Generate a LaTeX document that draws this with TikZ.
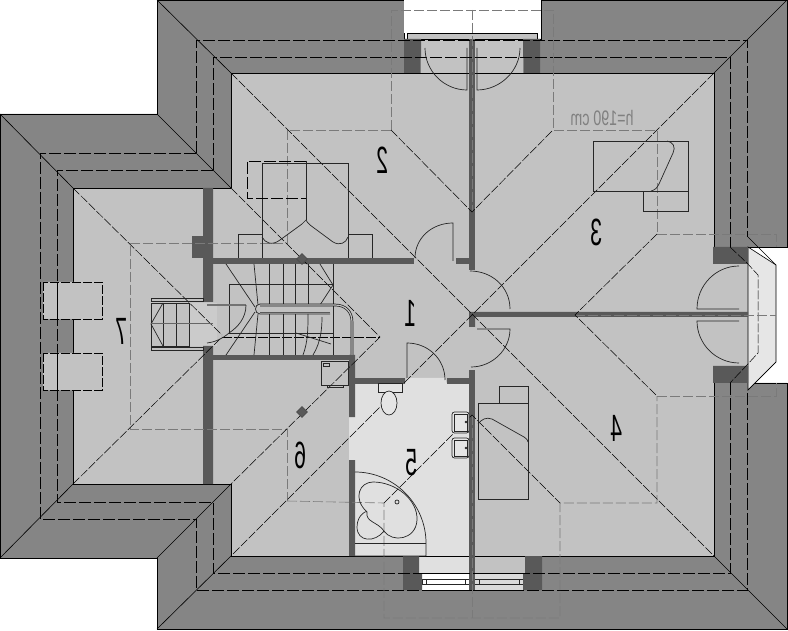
\documentclass[tikz,border=0pt]{standalone}
\usepackage{fontspec}
\setmainfont{Liberation Sans}
\usetikzlibrary{shapes.geometric}
\definecolor{rooftone}{HTML}{858585}
\definecolor{ceiltone}{HTML}{C2C2C2}
\definecolor{walltone}{HTML}{595959}
\definecolor{bathtone}{HTML}{E0E0E0}
\definecolor{faintline}{HTML}{7A7A7A}
\begin{document}
\begin{tikzpicture}[x=1pt,y=-1pt]
\tikzstyle{every path}=[line width=.6pt,line join=miter]
\tikzstyle{roof}=[fill=rooftone,draw=black]
\tikzstyle{ceil}=[fill=ceiltone]
\tikzstyle{wall}=[fill=walltone]
\tikzstyle{furn}=[draw=black!85,line width=.7pt]
\tikzstyle{hip}=[draw=black,line width=.5pt,dash pattern=on 9pt off 2pt]
\tikzstyle{eave}=[draw=black,line width=.8pt,dash pattern=on 12pt off 3pt]
\tikzstyle{low}=[draw=faintline,line width=.6pt,dash pattern=on 10pt off 3pt]
\tikzstyle{roomno}=[font=\fontsize{38}{38}\selectfont,xscale=-.56,inner sep=0pt]
\tikzstyle{marker}=[diamond,fill=walltone,draw=black!70,minimum size=11pt,inner sep=0pt]
\useasboundingbox (0,0) rectangle (788,631);
% roof and ceilings
\path[roof] (157,0) -- (404,0) -- (404,39) -- (541,39) -- (541,0) -- (787,0) -- (787,247)
 -- (748,247) -- (748,383) -- (787,383) -- (787,629) -- (157,629) -- (157,558) -- (0,558)
 -- (0,114) -- (157,114) -- cycle;
\fill[ceil] (231,73) rectangle (714,556);
\fill[ceil] (73,188) rectangle (231,484);
\fill[ceil] (714,264) rectangle (748,366);
\fill[ceil] (421,39) rectangle (523,73);
\fill[ceil] (469,556) rectangle (525,573);
\fill[ceiltone!85!white] (189,303) rectangle (217,346);
\fill[bathtone] (355,384) -- (405,384) -- (407,378) -- (445,378) -- (447,384) -- (469,384)
 -- (469,590) -- (422,590) -- (422,573) -- (419,573) -- (419,556) -- (355,556) -- cycle;
\fill[bathtone] (349,417) rectangle (355,460);
\fill[bathtone!80!white,draw=black] (748,247) -- (776,265) -- (776,362) -- (748,390) -- cycle;
\draw (231,188) -- (231,73) -- (714,73) -- (714,247);
\draw (714,383) -- (714,556) -- (231,556) -- (231,484) -- (73,484) -- (73,188) -- (231,188);
% north and south windows
\fill[white] (404,0) rectangle (541,33);
\path[ceil,draw=black] (407,33) rectangle (537,39);
\fill[white] (422,573) rectangle (523,590);
\fill[ceiltone!60!white] (472,573) rectangle (523,590);
\draw (422,573) -- (523,573) (422,590) -- (523,590);
\draw[furn] (422,579) rectangle (523,584);
\draw[furn] (426,579) -- (426,584) (465,579) -- (465,584) (479,579) -- (479,584) (519,579) -- (519,584);
% walls
\fill[wall] (404,39) rectangle (421,57) (404,57) rectangle (420,73);
\fill[wall] (523,39) rectangle (540,57) (524,57) rectangle (540,73);
\fill[wall] (403,556) rectangle (419,573) (403,573) rectangle (422,590);
\fill[wall] (525,556) rectangle (542,573) (523,573) rectangle (542,590);
\fill[wall] (713,247) rectangle (748,264) (713,366) rectangle (748,383);
\fill[wall] (469,39) rectangle (475,270);
\fill[wall] (456,258) rectangle (469,264);
\fill[wall] (469,312) rectangle (748,317) (469,312) rectangle (475,327);
\fill[wall] (469,370) rectangle (475,590);
\fill[wall] (447,378) rectangle (469,384);
\fill[wall] (203,188) rectangle (213,302) (203,346) rectangle (213,484);
\fill[wall] (192,236) rectangle (203,258);
\fill[wall] (203,258) rectangle (414,264);
\fill[wall] (203,355) rectangle (355,360);
\fill[wall] (349,355) rectangle (355,417) (349,460) rectangle (355,556);
\fill[wall] (355,378) rectangle (405,384);
% roof edges
\draw (157,0) -- (231,73) (787,0) -- (714,73) (787,629) -- (714,556) (157,629) -- (231,556);
\draw (0,114) -- (73,188) (0,558) -- (73,484) (157,114) -- (231,188) (157,558) -- (231,484);
\draw (748,237) -- (776,265) (748,390) -- (776,362);
% eaves
\path[eave] (213,170) -- (57,170) -- (57,502) -- (213,502) -- (213,573) -- (730,573) -- (730,383);
\path[eave] (196,153) -- (40,153) -- (40,519) -- (196,519) -- (196,590) -- (747,590) -- (747,390);
\path[eave] (213,170) -- (213,57) -- (730,57) -- (730,247);
\path[eave] (196,153) -- (196,40) -- (747,40) -- (747,237);
\path[hip] (730,247) -- (747,263) -- (758,275) -- (758,353) -- (747,365) -- (730,383);
% chimneys and skylights
\path[ceil] (43,282) rectangle (102,319) (43,353) rectangle (102,390);
\path[eave,line width=.6pt,dash pattern=on 9pt off 2pt] (43,282) rectangle (102,319) (43,353) rectangle (102,390);
\draw (57,282) -- (57,319) (57,353) -- (57,390);
% low ceiling line
\path[low] (391,130) -- (391,10) -- (553,10) -- (553,130) -- (657,130) -- (657,234);
\path[low] (391,130) -- (287,130) -- (287,243) -- (130,243) -- (130,429) -- (287,429) -- (287,501);
\path[low] (287,501) -- (384,503) -- (384,618) -- (560,618) -- (560,503) -- (657,503) -- (657,396);
\path[low] (657,234) -- (776,234) -- (776,247) (657,396) -- (776,396) -- (776,383);
\path[low] (472,10) -- (472,212) (575,315) -- (776,315) (472,415) -- (472,618);
% hips
\path[hip] (231,73) -- (714,556) (714,73) -- (231,556);
\path[hip] (73,188) -- (222,335) (73,484) -- (222,337);
\path[hip] (231,188) -- (380,337) -- (231,484);
\path[hip] (391,130) -- (472,212) -- (553,130);
\path[hip] (657,234) -- (575,315) -- (657,396);
\path[hip] (384,503) -- (472,415) -- (560,503);
\path[eave,dash pattern=on 10pt off 2pt] (222,337) -- (380,337);
% doors
\draw[furn] (467,48) -- (467,90) .. controls (444,90) and (425,71) .. (425,48);
\draw[furn] (477,48) -- (477,90) .. controls (500,90) and (520,71) .. (520,48);
\draw[furn] (739,309) -- (697,309) .. controls (697,285) and (716,266) .. (739,266);
\draw[furn] (739,321) -- (697,321) .. controls (697,344) and (716,363) .. (739,363);
\draw[furn] (453,261) -- (453,223) .. controls (432,223) and (415,238) .. (415,258);
\draw[furn] (470,271) .. controls (492,271) and (510,287) .. (510,309);
\draw[furn] (477,329) -- (510,329) .. controls (510,350) and (492,367) .. (471,367);
\draw[furn] (407,378) -- (407,343) .. controls (428,343) and (445,359) .. (445,380);
% double bed
\draw[furn] (262,258) -- (262,163) -- (348,163) -- (348,258);
\draw[furn] (306,161) -- (306,220);
\path[eave,line width=.6pt] (306,161) -- (247,161) -- (247,198) -- (306,198);
\draw[furn] (262,237) .. controls (265,243) and (272,246) .. (280,240) -- (302,224)
 .. controls (304,222) and (305,221) .. (306,220) .. controls (307,222) and (308,223) .. (310,225)
 -- (333,242) .. controls (340,246) and (346,243) .. (348,237);
\draw[furn] (238,258) -- (238,234) -- (262,234);
\draw[furn] (348,234) -- (372,234) -- (372,258);
% single beds
\draw[furn] (593,141) rectangle (688,191);
\draw[furn] (643,191) rectangle (688,211);
\draw[furn] (667,141) .. controls (673,142) and (676,147) .. (673,153) -- (659,184)
 .. controls (657,188) and (655,190) .. (651,191);
\draw[furn] (478,403) rectangle (528,499);
\draw[furn] (499,386) rectangle (528,403);
\draw[furn] (478,424) .. controls (482,419) and (486,417) .. (492,419) -- (524,437)
 .. controls (527,439) and (528,441) .. (528,442);
% stairs
\draw[furn] (229,284) rectangle (333,333);
\draw[furn] (333,264) -- (333,355);
\foreach \treadx in {269,283,295,308} {
 \draw[furn] (\treadx,264) -- (\treadx,305);
}
\foreach \treadx in {269,283,295} {
 \draw[furn] (\treadx,314) -- (\treadx,355);
}
\draw[furn] (254,264) -- (258,305) (226,264) -- (255,307) (258,314) -- (254,355) (255,312) -- (226,355);
\draw[furn] (320,264) -- (333,285) -- (320,305);
\draw[furn] (303,355) .. controls (308,342) and (308,328) .. (308,314);
\draw[furn] (313,355) .. controls (321,342) and (322,328) .. (322,317);
\draw[furn] (296,333) -- (331,344);
\draw[draw=black!90,line width=2.6pt] (260,305) -- (335,305) .. controls (346,305) and (352,312) .. (352,322) -- (352,355);
\draw[draw=ceiltone,line width=1.2pt] (260,305) -- (335,305) .. controls (346,305) and (352,312) .. (352,322) -- (352,355);
\draw[furn] (260,304) .. controls (254,304) and (254,314) .. (260,314) -- (330,314);
\draw[draw=black!65,line width=1.8pt] (260,312.5) -- (330,312.5);
\draw[draw=black!55,line width=1.3pt] (207,305) -- (246,305);
\draw[furn] (246,305) .. controls (246,318) and (238,327) .. (229,333) .. controls (222,339) and (215,342) .. (207,343);
\draw[furn] (151,298) rectangle (203,301) (151,347) rectangle (203,350);
\draw[furn] (151,303) rectangle (189,346);
\draw[furn] (163,303) -- (163,346) (176,303) -- (176,346);
\draw[furn] (163,303) -- (151,324) -- (163,346);
\draw[draw=black!60,line width=1pt] (151,324) -- (213,324);
% bath
\draw[furn] (355,472) .. controls (394,472) and (426,504) .. (426,543) -- (426,556) -- (355,556);
\draw[furn] (355,543) -- (426,543);
\draw[furn] (384,531) .. controls (378,522) and (365,522) .. (367,512) .. controls (352,498) and (360,482) .. (373,482)
 .. controls (396,482) and (418,500) .. (417,520) .. controls (416,540) and (392,543) .. (384,531);
\draw[furn] (384,531) .. controls (375,543) and (357,542) .. (357,527) .. controls (357,514) and (368,510) .. (367,512);
\draw[furn] (397,502) circle (2);
\draw[furn,fill=white!90!black,rounded corners=2.5pt] (452,412) rectangle (469,433);
\draw[furn,fill=white!90!black,rounded corners=2.5pt] (452,438) rectangle (469,458);
\draw[furn] (454,414) rectangle (467,431) (454,440) rectangle (467,456);
\draw[furn] (466,422) circle (.8) (466,448) circle (.8);
\draw[furn,fill=white!90!black] (378,383) rectangle (402,392);
\draw[furn,fill=white!90!black] (389,403) ellipse (8 and 12);
\draw[furn] (321,361) rectangle (348,385);
\draw[furn] (323,363) rectangle (329,366);
\draw[furn] (327,385) rectangle (343,387);
% markers and texts
\node[marker] (flue1) at (302,259) {};
\node[marker] (flue2) at (302,412) {};
\node[roomno] (room1) at (411,313) {1};
\node[roomno] (room2) at (383,160) {2};
\node[roomno] (room3) at (597,232) {3};
\node[roomno] (room4) at (617,428) {4};
\node[roomno] (room5) at (412,463) {5};
\node[roomno] (room6) at (301,455) {6};
\node[roomno] (room7) at (122,331) {7};
\node[font=\fontsize{21}{21}\selectfont,text=black!50,xscale=-.68,inner sep=0pt] (height) at (602,118) {h=190 cm};
\end{tikzpicture}
\end{document}
